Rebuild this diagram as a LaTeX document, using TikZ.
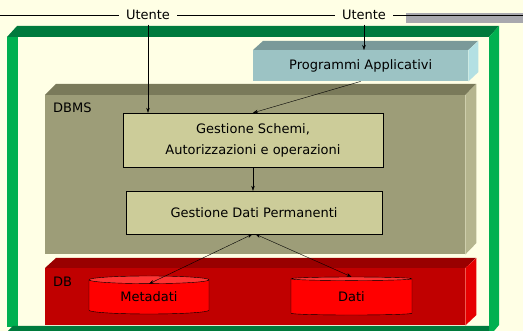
\documentclass[tikz,border=0pt]{standalone}
\usepackage{fontspec}
\setmainfont{DejaVu Sans}
\usepackage{tikz}
\usetikzlibrary{arrows.meta,shapes.geometric}

\definecolor{sfondo}{RGB}{255,255,229}
\definecolor{grigiobarra}{RGB}{168,168,174}
\definecolor{verdechiaro}{RGB}{0,176,80}
\definecolor{verdescuro}{RGB}{0,122,61}
\definecolor{tealfronte}{RGB}{156,195,196}
\definecolor{tealsopra}{RGB}{122,153,153}
\definecolor{tealfianco}{RGB}{179,224,227}
\definecolor{olivafronte}{RGB}{157,157,120}
\definecolor{olivasopra}{RGB}{122,122,90}
\definecolor{olivafianco}{RGB}{181,181,142}
\definecolor{gestione}{RGB}{204,204,153}
\definecolor{rossofronte}{RGB}{192,0,0}
\definecolor{rossosopra}{RGB}{153,0,0}
\definecolor{rossofianco}{RGB}{230,0,0}
\definecolor{rossodisco}{RGB}{255,51,51}

\begin{document}
\begin{tikzpicture}[x=1pt,y=-1pt,font=\fontsize{13}{19}\selectfont,
  freccia/.style={-{Stealth[length=5pt,width=3.5pt]},thin},
  doppia/.style={{Stealth[length=5pt,width=3.5pt]}-{Stealth[length=5pt,width=3.5pt]},thin},
  faccia/.style={anchor=north west,inner sep=0pt},
  modulo/.style={draw=black,thin,fill=gestione,inner sep=0pt,align=center},
  utente/.style={fill=sfondo,inner xsep=7pt,inner ysep=0pt,minimum height=19pt},
  disco/.style={cylinder,shape border rotate=90,aspect=0.133,draw=black,thin,
    cylinder uses custom fill,cylinder body fill=red,cylinder end fill=rossodisco,
    minimum width=120pt,minimum height=38pt,inner sep=0pt}]

% Draw background and bounding box.
\fill[sfondo] (0,0) rectangle (523,331);
\useasboundingbox (0,0) rectangle (523,331);
\fill[grigiobarra] (406,13) rectangle (523,23);

% Green frame.
\fill[verdescuro] (7,37) -- (17,26) -- (499,26) -- (489,37) -- cycle;
\fill[verdechiaro] (7,37) rectangle (18,327);
\fill[verdechiaro] (489,37) -- (499,26) -- (499,325) -- (494,331) -- (489,331) -- cycle;
\fill[verdescuro] (8,331) -- (13,326) -- (489,326) -- (489,331) -- cycle;

% Programmi Applicativi box.
\node[faccia,fill=tealfronte,minimum width=215pt,minimum height=31pt] (pa) at (253,50) {Programmi Applicativi};
\fill[tealsopra] (pa.north west) -- ++(10,-9) -- ++(215,0) -- (pa.north east) -- cycle;
\fill[tealfianco] (pa.north east) -- ++(10,-9) -- ++(0,31) -- (pa.south east) -- cycle;

% DBMS box.
\node[faccia,fill=olivafronte,minimum width=420pt,minimum height=159pt] (dbms) at (45,95) {};
\fill[olivasopra] (dbms.north west) -- ++(11,-11) -- ++(420,0) -- (dbms.north east) -- cycle;
\fill[olivafianco] (dbms.north east) -- ++(11,-11) -- ++(0,159) -- (dbms.south east) -- cycle;
\node[anchor=west,inner sep=0pt] (etdbms) at (53,108) {DBMS};

% DB box.
\node[faccia,fill=rossofronte,minimum width=420pt,minimum height=57pt] (db) at (45,268) {};
\fill[rossosopra] (db.north west) -- ++(11,-10) -- ++(420,0) -- (db.north east) -- cycle;
\fill[rossofianco] (db.north east) -- ++(11,-10) -- ++(0,57) -- (db.south east) -- cycle;
\node[anchor=west,inner sep=0pt] (etdb) at (53,282) {DB};

% Modules and disks.
\node[modulo,minimum width=260pt,minimum height=54pt] (gs) at (253,140) {Gestione Schemi,\\[2pt]Autorizzazioni e operazioni};
\node[modulo,minimum width=256pt,minimum height=43pt] (gdp) at (254,212.5) {Gestione Dati Permanenti};
\node[disco] (meta) at (149,297) {Metadati};
\node[disco,minimum width=121pt] (dati) at (351.5,297) {Dati};

% Users on the top line.
\node[utente] (ut1) at (148,15) {Utente};
\node[utente] (ut2) at (364,15) {Utente};
\draw[thin] (0,15) -- (ut1) -- (ut2) -- (523,15);

% Arrows.
\draw[freccia] (ut1) -- (ut1 |- gs.north);
\draw[freccia] (ut2) -- (ut2 |- pa.north);
\draw[freccia] (pa.south) -- (gs.north);
\draw[freccia] (gs.south) -- (gs.south |- gdp.north);
\draw[doppia] ([xshift=-1.5pt]gdp.south) -- ([yshift=-8pt]meta.north);
\draw[doppia] ([xshift=1.5pt]gdp.south) -- (dati.north);

\end{tikzpicture}
\end{document}
